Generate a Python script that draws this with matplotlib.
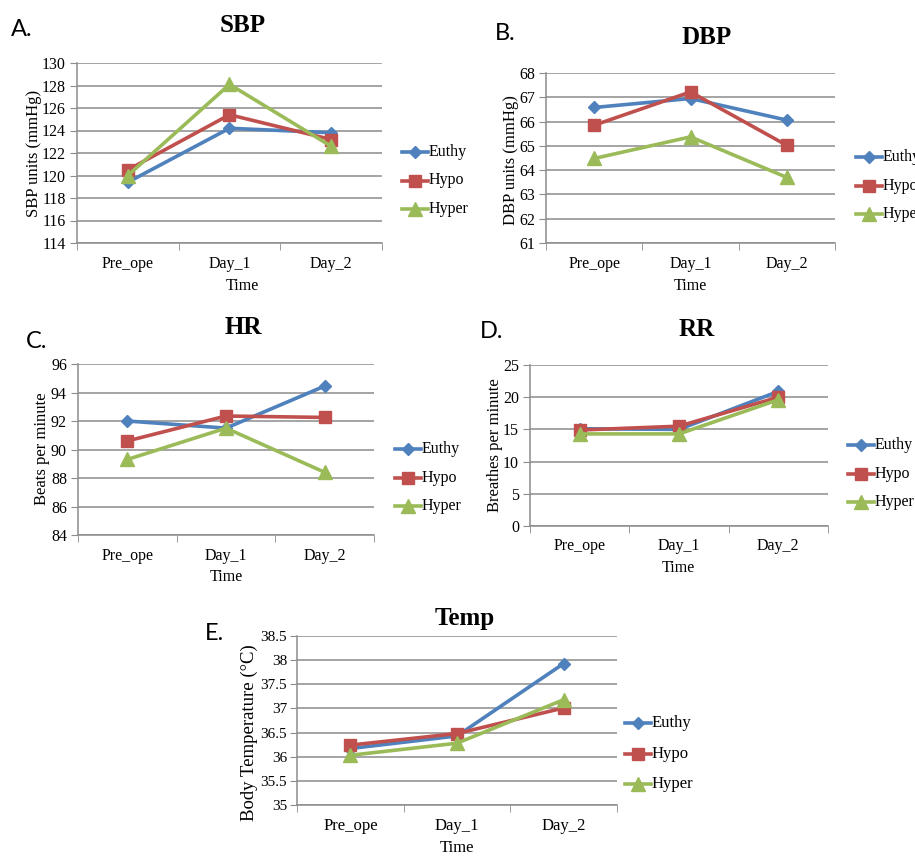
import matplotlib
matplotlib.use("Agg")
import matplotlib.pyplot as plt
from matplotlib.lines import Line2D

# ---------------- data ----------------
categories = ["Pre_ope", "Day_1", "Day_2"]
groups = ["Euthy", "Hypo", "Hyper"]

sbp_euthy = [119.4, 124.2, 123.8]
sbp_hypo = [120.5, 125.4, 123.2]
sbp_hyper = [120.0, 128.1, 122.6]

dbp_euthy = [66.58, 66.95, 66.06]
dbp_hypo = [65.85, 67.22, 65.02]
dbp_hyper = [64.48, 65.37, 63.70]

hr_euthy = [92.0, 91.5, 94.45]
hr_hypo = [90.6, 92.35, 92.25]
hr_hyper = [89.3, 91.5, 88.4]

rr_euthy = [15.1, 15.0, 20.9]
rr_hypo = [14.9, 15.5, 20.0]
rr_hyper = [14.3, 14.3, 19.6]

temp_euthy = [36.17, 36.43, 37.93]
temp_hypo = [36.24, 36.48, 37.01]
temp_hyper = [36.03, 36.28, 37.18]

# ---------------- style ----------------
W, H = 915, 857
fig = plt.figure(figsize=(W / 100, H / 100), dpi=100)
fig.patch.set_facecolor("white")

SERIF = "Liberation Serif"
SANS = "Lato"
colors = {"Euthy": "#4F81BD", "Hypo": "#C0504D", "Hyper": "#9BBB59"}
markers = {"Euthy": ("D", 6.5), "Hypo": ("s", 9), "Hyper": ("^", 9.5)}
GRID = "#8c8c8c"


def px_axes(x0, y0, x1, y1):
    return fig.add_axes([x0 / W, 1 - y1 / H, (x1 - x0) / W, (y1 - y0) / H])


def fx(x):
    return x / W


def fy(y):
    return 1 - y / H


def panel(box, series, ylim, yticks, ytlabels, title, title_xy, letter, letter_xy,
          ylabel, ylabel_xy, time_xy, legend_xy, fs=11.5, tfs=None, ylabel_fs=12,
          legend_gap=28.5, ypad=3):
    tfs = fs if tfs is None else tfs
    ax = px_axes(*box)
    x = list(range(len(categories)))
    for name, vals in zip(groups, series):
        m, ms = markers[name]
        ax.plot(x, vals, color=colors[name], lw=2.6, marker=m, markersize=ms,
                markeredgecolor=colors[name], zorder=3, clip_on=False)
    ax.set_xlim(-0.5, len(categories) - 0.5)
    ax.set_ylim(*ylim)
    ax.set_yticks(yticks)
    ax.set_yticklabels(ytlabels, fontfamily=SERIF, fontsize=tfs)
    ax.set_xticks(x)
    ax.set_xticklabels(categories, fontfamily=SERIF, fontsize=fs)
    ax.set_xticks([i - 0.5 for i in range(len(categories) + 1)], minor=True)
    ax.tick_params(axis="x", which="major", length=0, pad=9)
    ax.tick_params(axis="x", which="minor", length=5, color=GRID, direction="out")
    ax.tick_params(axis="y", length=5, color=GRID, pad=ypad)
    ax.yaxis.grid(True, color=GRID, lw=1.1)
    ax.set_axisbelow(True)
    for s in ["top", "right"]:
        ax.spines[s].set_visible(False)
    for s in ["left", "bottom"]:
        ax.spines[s].set_color(GRID)
        ax.spines[s].set_linewidth(1.1)
    # title, panel letter, labels
    fig.text(fx(title_xy[0]), fy(title_xy[1]), title, fontfamily=SERIF, fontweight="bold",
             fontsize=18, ha="center", va="center")
    fig.text(fx(letter_xy[0]), fy(letter_xy[1]), letter, fontfamily=SANS, fontsize=17,
             ha="left", va="center")
    fig.text(fx(ylabel_xy[0]), fy(ylabel_xy[1]), ylabel, fontfamily=SERIF, fontsize=ylabel_fs,
             rotation=90, ha="center", va="center")
    fig.text(fx(time_xy[0]), fy(time_xy[1]), "Time", fontfamily=SERIF, fontsize=fs,
             ha="center", va="center")
    # legend (drawn manually as line+marker+text entries)
    lx, ly = legend_xy
    for i, name in enumerate(groups):
        yy = ly + i * legend_gap
        m, ms = markers[name]
        ln = Line2D([fx(lx), fx(lx + 26)], [fy(yy), fy(yy)], transform=fig.transFigure,
                    color=colors[name], lw=2.6)
        mk = Line2D([fx(lx + 13)], [fy(yy)], transform=fig.transFigure, color=colors[name],
                    marker=m, markersize=ms, markeredgecolor=colors[name], lw=0)
        fig.add_artist(ln)
        fig.add_artist(mk)
        fig.text(fx(lx + 27), fy(yy), name, fontfamily=SERIF, fontsize=fs,
                 ha="left", va="center")
    return ax


# A. SBP
panel((77, 63, 382, 243), [sbp_euthy, sbp_hypo, sbp_hyper], (114, 130),
      list(range(114, 131, 2)), [str(v) for v in range(114, 131, 2)],
      "SBP", (243, 26), "A.", (11, 30), "SBP units (mmHg)", (34, 153), (242, 286),
      (402, 152))

# B. DBP
panel((546, 73, 835, 243), [dbp_euthy, dbp_hypo, dbp_hyper], (61, 68),
      list(range(61, 69)), [str(v) for v in range(61, 69)],
      "DBP", (707, 37), "B.", (495, 34), "DBP units (mmHg)", (511, 160), (690, 286),
      (856, 157))

# C. HR
panel((78, 364, 374, 535), [hr_euthy, hr_hypo, hr_hyper], (84, 96),
      list(range(84, 97, 2)), [str(v) for v in range(84, 97, 2)],
      "HR", (243, 327), "C.", (26, 342), "Beats per minute", (42, 449), (226, 577),
      (395, 449))

# D. RR
panel((530, 365, 828, 526), [rr_euthy, rr_hypo, rr_hyper], (0, 25),
      list(range(0, 26, 5)), [str(v) for v in range(0, 26, 5)],
      "RR", (697, 329), "D.", (480, 332), "Breathes per minute", (495, 445), (678, 568),
      (848, 445))

# E. Temp
t_ticks = [35 + 0.5 * i for i in range(8)]
t_labels = ["35", "35.5", "36", "36.5", "37", "37.5", "38", "38.5"]
panel((297, 636, 617, 805), [temp_euthy, temp_hypo, temp_hyper], (35, 38.5),
      t_ticks, t_labels,
      "Temp", (465, 619), "E.", (205, 633), "Body Temperature (°C)", (249, 733), (457, 848),
      (625, 723), fs=12, tfs=11, ylabel_fs=13.5, legend_gap=30.5, ypad=2)

fig.savefig("out.png", dpi=100)
